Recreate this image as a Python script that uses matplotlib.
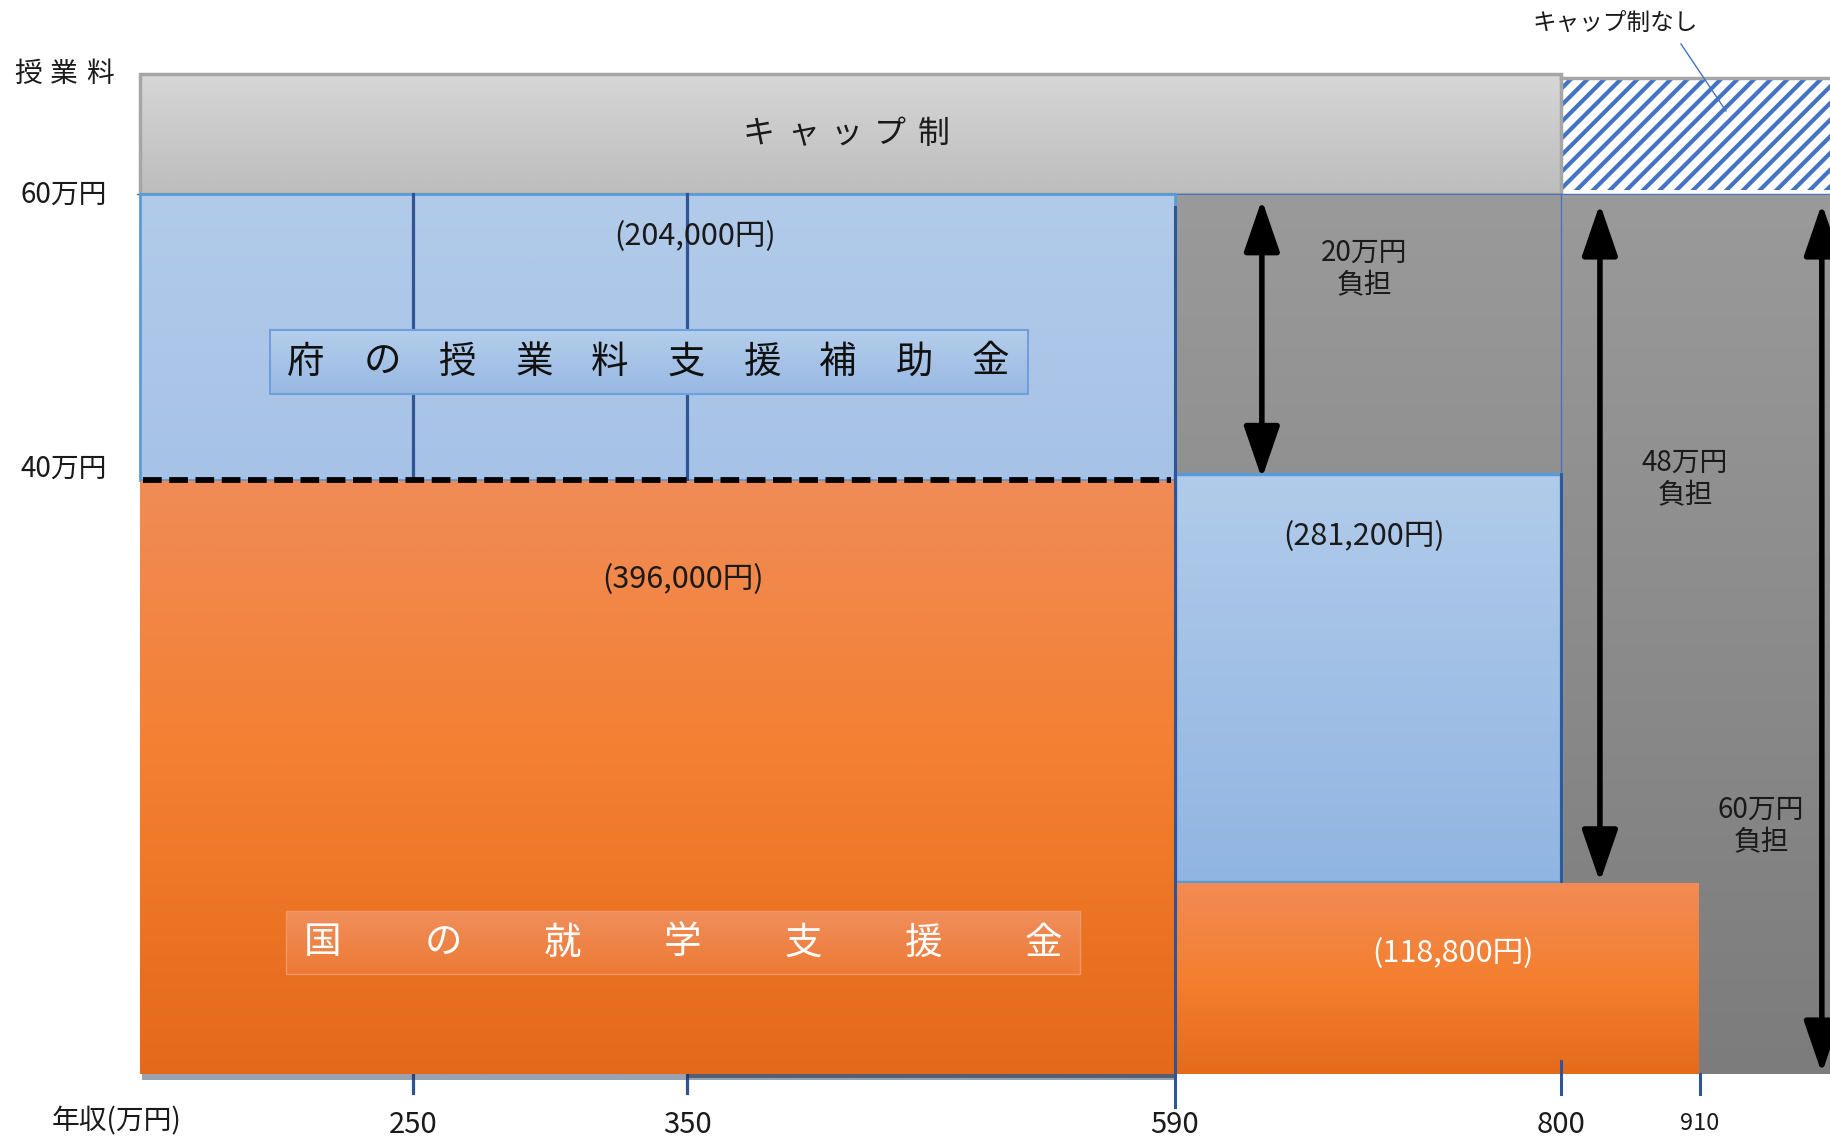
import numpy as np
import matplotlib
matplotlib.use("Agg")
import matplotlib.pyplot as plt
from matplotlib.colors import LinearSegmentedColormap
from matplotlib.patches import Rectangle

plt.rcParams['font.family'] = ['Noto Sans CJK JP', 'DejaVu Sans']
plt.rcParams['hatch.linewidth'] = 3.0

# data (万円)
income_ticks = [250, 350, 590, 800, 910]
income_labels = ['250', '350', '590', '800', '910']
cap = 60.0
national_low = 39.6      # 国の就学支援金 (年収590万円未満)
national_mid = 11.88     # 国の就学支援金 (590〜910万円)
pref_low = 20.4          # 府の授業料支援補助金 (590万円未満)
pref_mid = 28.12         # 府の授業料支援補助金 (590〜800万円)
burden = [20, 48, 60]
value_labels = ['(204,000円)', '(396,000円)', '(281,200円)', '(118,800円)']

# schematic layout: value -> pixel position (the original is not to scale)
inc_anchor = [-10000, -150, 0, 250, 350, 590, 800, 910, 1010, 10000]
px_anchor = [-9193, 0, 140, 413, 687, 1175, 1561, 1700, 1831, 13000]
val_anchor = [-1000, 0, 11.88, 39.6, 60, 1000]
py_anchor = [1074 + 1000 * 14.67, 1074, 882, 480, 194, 194 - 940 * 14.02]


def xfwd(v):
    return np.interp(v, inc_anchor, px_anchor)


def xinv(p):
    return np.interp(p, px_anchor, inc_anchor)


def yfwd(v):
    return -np.interp(v, val_anchor, py_anchor)


def yinv(p):
    return np.interp(-np.asarray(p), py_anchor[::-1], val_anchor[::-1])


W, H = 1831, 1140
fig = plt.figure(figsize=(W / 100, H / 100), dpi=100)
ax = fig.add_axes([0, 0, 1, 1])
ax.set_xscale('function', functions=(xfwd, xinv))
ax.set_yscale('function', functions=(yfwd, yinv))
xlim = (-150, 1010)
ylim = (float(yinv(-H)), float(yinv(0)))
ax.axis('off')


def grad_rect(x0, x1, y0, y1, stops, z, ec=None, lw=0):
    cmap = LinearSegmentedColormap.from_list('g', stops)
    arr = np.linspace(0, 1, 256).reshape(-1, 1)
    ax.imshow(arr, cmap=cmap, extent=(x0, x1, y0, y1), origin='upper',
              aspect='auto', zorder=z, interpolation='bilinear')
    if ec is not None:
        ax.add_patch(Rectangle((x0, y0), x1 - x0, y1 - y0, fill=False,
                               ec=ec, lw=lw, zorder=z + 0.1))


band_top = 68.56
# cap band
grad_rect(0, 800, cap, band_top, ['#d7d7d7', '#bdbdbd'], 1, ec='#a6a6a6', lw=2.5)
# no-cap hatched band
ax.add_patch(Rectangle((800, cap + 0.25), xlim[1] - 800, 8.0, fc='white',
                       ec='#4472c4', hatch='//', lw=0, zorder=1))
ax.plot([800, xlim[1]], [cap + 8.25, cap + 8.25], color='#a6a6a6', lw=2.5, zorder=1.2)
ax.plot([-3, xlim[1]], [cap, cap], color='#4472c4', lw=1, zorder=1.3)

# burden (gray)
grad_rect(590, xlim[1], 0, cap, ['#9a9a9a', '#8c8c8c', '#7c7c7c'], 2)
ax.plot([800, 800], [cap, national_mid + pref_mid], color='#4472c4', lw=1, zorder=2.2)

# prefectural support (blue)
grad_rect(0, 590, national_low, national_low + pref_low, ['#b2cbea', '#a6c2e7'], 3,
          ec='#5b9bd5', lw=2)
grad_rect(590, 800, national_mid, national_mid + pref_mid, ['#b1cbea', '#91b5e2'], 3,
          ec='#5b9bd5', lw=2.5)
ax.plot([800, 800], [national_mid, national_mid + pref_mid], color='#2f5597', lw=2, zorder=3.3)

# guide lines 250 / 350
for v in income_ticks[:2]:
    ax.plot([v, v], [-1.3, cap], color='#2f5597', lw=2.3, zorder=3.5)

# national support (orange)
ax.add_patch(Rectangle((2, -0.4), 588, 0.45, fc='#22324f', ec='none', alpha=0.45, zorder=3.8))
ax.add_patch(Rectangle((350, -0.3), 240, 0.35, fc='#22324f', ec='none', alpha=0.6, zorder=3.85))
grad_rect(0, 590, 0, national_low, ['#f08c57', '#f47f30', '#e5691a'], 4)
grad_rect(590, 910, 0, national_mid, ['#f18b55', '#f47f2f', '#e56b1b'], 4)
ax.plot([3, 588], [national_low, national_low], color='black', lw=4.2,
        ls=(0, (3.2, 1.3)), zorder=4.5)

# vertical lines 590 / 800 / 910
ax.plot([590, 590], [-2.25, 59.1], color='#2f5597', lw=2.2, zorder=5)
ax.plot([800, 800], [-1.35, 0.8], color='#2f5597', lw=2.2, zorder=5)
ax.plot([910, 910], [-1.35, 0.0], color='#2f5597', lw=2.2, zorder=5)

# burden arrows
arrow_x = [590 + 0.225 * 210, 800 + 0.28 * 110, 1003]
arrow_y = [(cap - 0.4, national_low + 0.1),
           (cap - 0.7, national_mid),
           (cap - 0.7, 0.05)]
for xa, (ya, yb) in zip(arrow_x, arrow_y):
    ax.annotate('', xy=(xa, yb), xytext=(xa, ya),
                arrowprops=dict(arrowstyle='<|-|>,head_length=1.6,head_width=0.55',
                                mutation_scale=20, lw=4, color='black',
                                shrinkA=0, shrinkB=0), zorder=6)

ax.set_xlim(*xlim)
ax.set_ylim(*ylim)

# x labels
tick_fs = [21, 21, 21, 21, 17]
tick_y = [-3.5, -3.5, -3.5, -3.5, -3.35]
for v, lab, fs, ty in zip(income_ticks, income_labels, tick_fs, tick_y):
    ax.text(v, ty, lab, ha='center', va='center', fontsize=fs, color='#1a1a1a')

# overlay in pixel coords for boxes and text
ov = fig.add_axes([0, 0, 1, 1], zorder=10)
ov.set_xlim(0, W)
ov.set_ylim(H, 0)
ov.axis('off')
ov.patch.set_alpha(0)

# 府 box
cm_b = LinearSegmentedColormap.from_list('b', ['#b4cdeb', '#98b9e3'])
ov.imshow(np.linspace(0, 1, 64).reshape(-1, 1), cmap=cm_b, extent=(270, 1028, 394, 330),
          aspect='auto', zorder=1)
ov.add_patch(Rectangle((270, 330), 758, 64, fill=False, ec='#6fa0dc', lw=1.5, zorder=1.1))
for i, ch in enumerate('府の授業料支援補助金'):
    ov.text(306 + 76 * i, 362, ch, ha='center', va='center', fontsize=27, color='#111111', zorder=2)

# 国 box
cm_o = LinearSegmentedColormap.from_list('o', ['#f19262', '#ee7c38'])
ov.imshow(np.linspace(0, 1, 64).reshape(-1, 1), cmap=cm_o, extent=(286, 1080, 974, 911),
          aspect='auto', zorder=1, alpha=0.9)
ov.add_patch(Rectangle((286, 911), 794, 63, fill=False, ec='#f29766', lw=1, zorder=1.1))
for i, ch in enumerate('国の就学支援金'):
    ov.text(323 + 120 * i, 943, ch, ha='center', va='center', fontsize=27, color='white', zorder=2)

# cap label
for i, ch in enumerate('キャップ制'):
    ov.text(759 + 43.75 * i, 134, ch, ha='center', va='center', fontsize=23, color='#1a1a1a')
ov.text(1615, 23, 'キャップ制なし', ha='center', va='center', fontsize=17, color='#1a1a1a')
ov.plot([1681, 1726], [44, 111], color='#4472c4', lw=1)

# y labels
for i, ch in enumerate('授業料'):
    ov.text(28 + 36 * i, 74, ch, ha='center', va='center', fontsize=20, color='#1a1a1a')
ov.text(64, 195, '60万円', ha='center', va='center', fontsize=20, color='#1a1a1a')
ov.text(64, 469, '40万円', ha='center', va='center', fontsize=20, color='#1a1a1a')
ov.text(117, 1121, '年収(万円)', ha='center', va='center', fontsize=20, color='#1a1a1a')

# amounts
ov.text(695, 237, value_labels[0], ha='center', va='center', fontsize=22, color='#1a1a1a')
ov.text(683, 580, value_labels[1], ha='center', va='center', fontsize=22, color='#1a1a1a')
ov.text(1364, 537, value_labels[2], ha='center', va='center', fontsize=22, color='#1a1a1a')
ov.text(1453, 954, value_labels[3], ha='center', va='center', fontsize=22, color='white')

# burden labels
burden_pos = [(1364, 269), (1685, 479), (1761, 826)]
for b, (px, py) in zip(burden, burden_pos):
    ov.text(px, py, f'{b}万円\n負担', ha='center', va='center', fontsize=20,
            color='#1a1a1a', linespacing=1.15)

fig.savefig('out.png', dpi=100)
